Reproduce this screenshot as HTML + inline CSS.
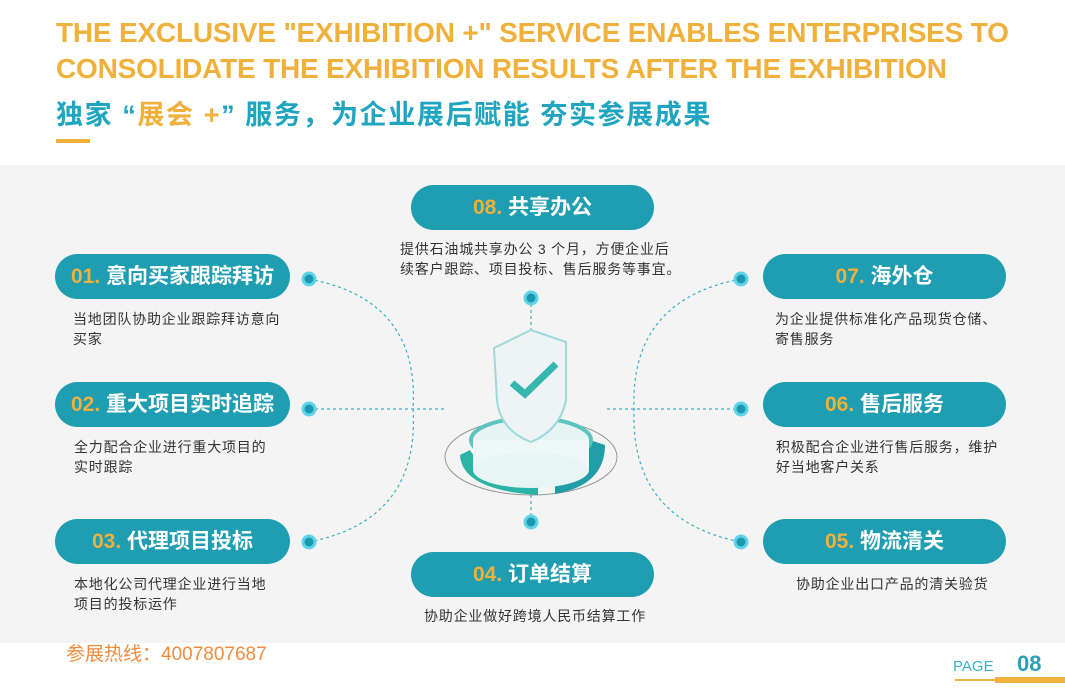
<!DOCTYPE html>
<html><head><meta charset="utf-8"><style>
*{margin:0;padding:0;box-sizing:border-box}
body{width:1065px;height:690px;background:#fff;position:relative;overflow:hidden;font-family:"Liberation Sans","Noto Sans CJK SC",sans-serif}
.t{position:absolute;left:56px;font-weight:bold;font-size:28px;color:#F0B03C;white-space:nowrap;letter-spacing:-0.2px}
.band{position:absolute;left:0;top:165px;width:1065px;height:478px;background:#F4F4F4}
.pill{position:absolute;height:45px;border-radius:23px;background:#1F9DB1;color:#fff;font-weight:bold;font-size:21px;line-height:45px;text-align:center;white-space:nowrap}
.pill b{color:#F0B03C;font-weight:bold}
.d{position:absolute;font-size:14px;color:#333;line-height:20px;white-space:nowrap;letter-spacing:0.8px}
</style></head><body>
<div class="t" style="top:17px">THE EXCLUSIVE "EXHIBITION +" SERVICE ENABLES ENTERPRISES TO</div>
<div class="t" style="top:53px">CONSOLIDATE THE EXHIBITION RESULTS AFTER THE EXHIBITION</div>
<div class="t" style="top:93px;color:#1FA5C0;font-size:27px;letter-spacing:1.6px">独家 “<span style="color:#F0B03C">展会 +</span>” 服务，为企业展后赋能 夯实参展成果</div>
<div style="position:absolute;left:56px;top:139px;width:34px;height:4px;background:#F0B03C"></div>
<div class="band"></div>
<svg style="position:absolute;left:0;top:0" width="1065" height="690">
<g fill="none" stroke="#3BAFC4" stroke-width="1.2" stroke-dasharray="3,3">
<path d="M309 279 Q420 300 413 409 Q420 520 309 542"/>
<path d="M741 279 Q630 300 634 409 Q630 520 741 542"/>
<line x1="309" y1="409" x2="447" y2="409"/>
<line x1="607" y1="409" x2="741" y2="409"/>
<line x1="531" y1="298" x2="531" y2="330"/>
<line x1="531" y1="495" x2="531" y2="522"/>
</g>
<g fill="#1B97AE" stroke="#5FD3EA" stroke-width="3">
<circle cx="309" cy="279" r="6"/><circle cx="309" cy="409" r="6"/><circle cx="309" cy="542" r="6"/>
<circle cx="741" cy="279" r="6"/><circle cx="741" cy="409" r="6"/><circle cx="741" cy="542" r="6"/>
<circle cx="531" cy="298" r="6"/><circle cx="531" cy="522" r="6"/>
</g>
<ellipse cx="531" cy="457" rx="86" ry="38" fill="none" stroke="#999" stroke-width="1"/>
<path d="M460 455 Q462 490 538 495 L538 475 Q480 470 470 450 Z" fill="#2BB3A6"/>
<path d="M555 494 Q605 485 605 445 L590 440 Q588 470 555 478 Z" fill="#219DA8"/>
<ellipse cx="531" cy="440" rx="60" ry="22" fill="#E6F4F4" stroke="#5CC4BF" stroke-width="4"/>
<rect x="473" y="440" width="116" height="30" fill="#EEF8F8"/>
<ellipse cx="531" cy="470" rx="58" ry="18" fill="#E8F5F5"/>
<path d="M494 348 L531 330 L566 342 L566 400 Q560 430 531 442 Q500 430 497 400 Z" fill="#EEF3F6" stroke="#9ED9DA" stroke-width="2"/>
<path d="M512 383 L525 394 L556 364" fill="none" stroke="#35B6AE" stroke-width="7"/>
</svg>
<div class="pill" style="left:411px;top:185px;width:243px"><b>08.</b> 共享办公</div>
<div class="d" style="left:400px;top:239px">提供石油城共享办公 3 个月，方便企业后<br>续客户跟踪、项目投标、售后服务等事宜。</div>
<div class="pill" style="left:55px;top:254px;width:235px"><b>01.</b> 意向买家跟踪拜访</div>
<div class="d" style="left:73px;top:309px">当地团队协助企业跟踪拜访意向<br>买家</div>
<div class="pill" style="left:55px;top:382px;width:235px"><b>02.</b> 重大项目实时追踪</div>
<div class="d" style="left:74px;top:437px">全力配合企业进行重大项目的<br>实时跟踪</div>
<div class="pill" style="left:55px;top:519px;width:235px"><b>03.</b> 代理项目投标</div>
<div class="d" style="left:74px;top:574px">本地化公司代理企业进行当地<br>项目的投标运作</div>
<div class="pill" style="left:411px;top:552px;width:243px"><b>04.</b> 订单结算</div>
<div class="d" style="left:424px;top:606px">协助企业做好跨境人民币结算工作</div>
<div class="pill" style="left:763px;top:254px;width:243px"><b>07.</b> 海外仓</div>
<div class="d" style="left:775px;top:309px">为企业提供标准化产品现货仓储、<br>寄售服务</div>
<div class="pill" style="left:763px;top:382px;width:243px"><b>06.</b> 售后服务</div>
<div class="d" style="left:776px;top:437px">积极配合企业进行售后服务，维护<br>好当地客户关系</div>
<div class="pill" style="left:763px;top:519px;width:243px"><b>05.</b> 物流清关</div>
<div class="d" style="left:796px;top:574px">协助企业出口产品的清关验货</div>
<div style="position:absolute;left:66px;top:639px;font-size:19px;color:#F08C3C">参展热线：4007807687</div>
<div style="position:absolute;left:953px;top:658px;font-size:15px;color:#3BAFC4">PAGE</div>
<div style="position:absolute;left:1017px;top:651px;font-size:22px;font-weight:bold;color:#2AA0B8">08</div>
<div style="position:absolute;left:955px;top:679px;width:40px;height:2px;background:#F0B03C"></div>
<div style="position:absolute;left:995px;top:677px;width:70px;height:6px;background:#F0B03C"></div>
</body></html>
